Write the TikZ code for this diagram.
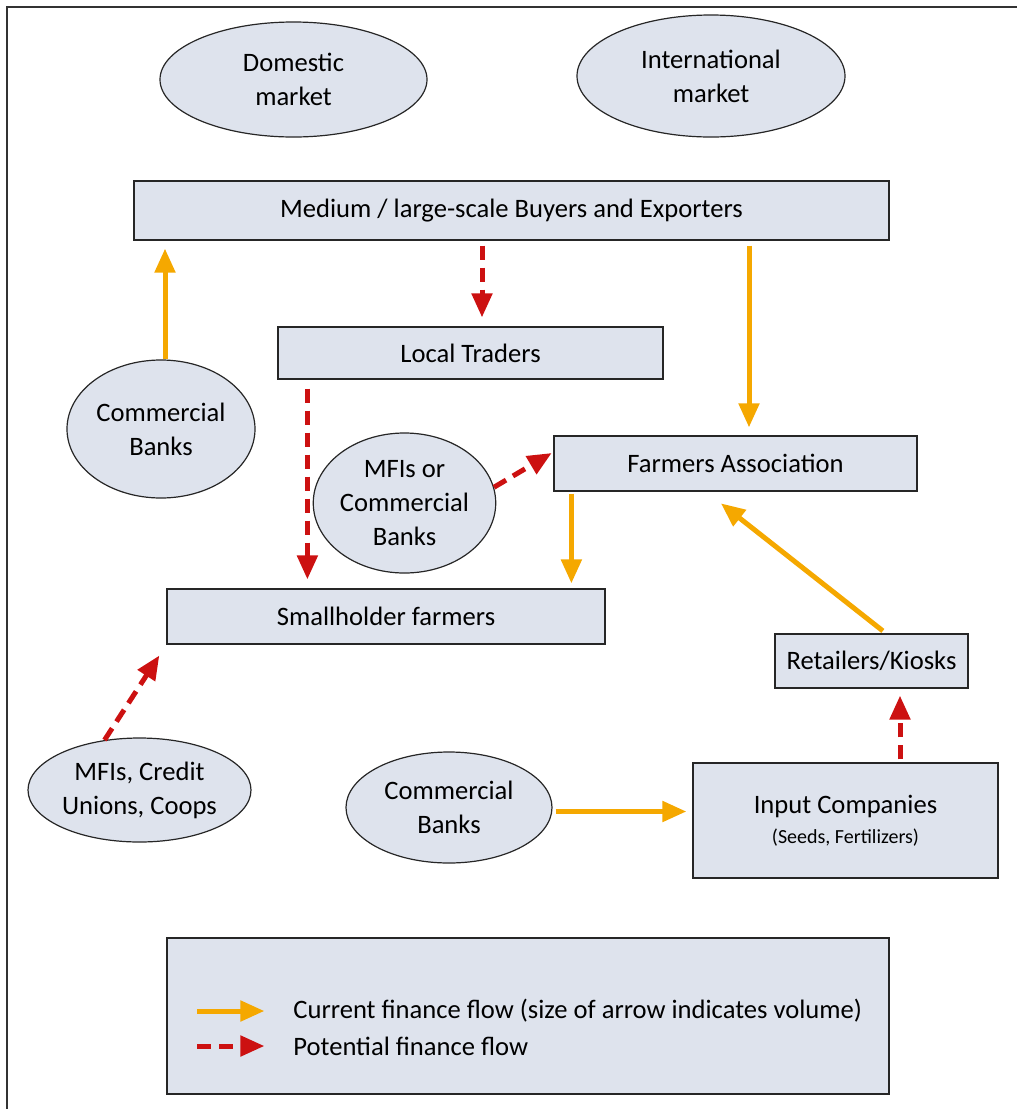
\documentclass[tikz,border=0pt]{standalone}
\usepackage{fontspec}
\setmainfont{Carlito}
\usetikzlibrary{shapes.geometric,arrows.meta}

\definecolor{boxfill}{HTML}{DEE3ED}
\definecolor{flowcur}{HTML}{F5A800}
\definecolor{flowpot}{HTML}{CC1111}

\tikzset{
  box/.style={draw=black!85,fill=boxfill,line width=0.6pt,inner sep=0pt,
    font=\fontsize{13.3}{17}\selectfont,align=center},
  blob/.style={ellipse,draw=black!85,fill=boxfill,line width=0.6pt,inner sep=0pt,
    font=\fontsize{13.3}{17}\selectfont,align=center},
  current/.style={draw=flowcur,line width=2.5pt,-{Triangle[width=10pt,length=12pt]}},
  potential/.style={draw=flowpot,line width=2.5pt,dash pattern=on 7pt off 4pt,
    -{Triangle[width=10pt,length=12pt]}},
}

\begin{document}
\begin{tikzpicture}[x=0.5pt,y=-0.5pt]
\useasboundingbox (0,0) rectangle (1017,1109);
\draw[line width=1pt,black!80] (7,1109) -- (7,7) -- (1017,7);

% markets
\node[blob,minimum width=133.5pt,minimum height=57.5pt] (domestic) at (293.5,79.5) {Domestic\\market};
\node[blob,minimum width=134pt,minimum height=61pt] (intl) at (711,76) {International\\market};

% boxes
\node[box,minimum width=377.5pt,minimum height=29.5pt] (buyers) at (511.5,210.5) {Medium / large-scale Buyers and Exporters};
\node[box,minimum width=192.5pt,minimum height=26pt] (traders) at (470.5,353) {Local Traders};
\node[box,minimum width=181.5pt,minimum height=27.5pt] (assoc) at (735.5,463.5) {Farmers Association};
\node[box,minimum width=219pt,minimum height=27.5pt] (small) at (386,616.5) {Smallholder farmers};
\node[box,minimum width=96.5pt,minimum height=27pt] (retail) at (871.5,661) {Retailers/Kiosks};
\node[box,minimum width=152.5pt,minimum height=57.5pt] (input) at (845.5,820.5)
  {Input Companies\\[-2pt]{\fontsize{10}{12}\selectfont (Seeds, Fertilizers)}};

% lenders
\node[blob,minimum width=94pt,minimum height=69pt] (cbl) at (161,429) {Commercial\\Banks};
\node[blob,minimum width=87.5pt,minimum height=70pt] (mfi) at (404.5,503) {MFIs or\\Commercial\\Banks};
\node[blob,minimum width=111.5pt,minimum height=52pt] (coops) at (139.5,790) {MFIs, Credit\\Unions, Coops};
\node[blob,minimum width=103pt,minimum height=55.5pt] (cbb) at (449,807.5) {Commercial\\Banks};

% flows
\draw[current,shorten >=4pt] ([xshift=2pt]cbl.north) -- ([xshift=2pt]cbl.north |- buyers.south);
\draw[potential,shorten <=2.5pt,shorten >=4.5pt] ([xshift=5.75pt]traders.north |- buyers.south) -- ([xshift=5.75pt]traders.north);
\draw[current,shorten <=2.5pt,shorten >=4pt] ([xshift=6.75pt]assoc.north |- buyers.south) -- ([xshift=6.75pt]assoc.north);
\draw[potential,shorten <=4.5pt,shorten >=4.5pt] ([xshift=15pt]traders.south west) -- ([xshift=15pt]traders.south west |- small.north);
\draw[potential,shorten >=1pt] (mfi.10) -- ([yshift=5.75pt]assoc.west);
\draw[current,shorten <=1pt,shorten >=2.5pt] ([xshift=9pt]assoc.south west) -- ([xshift=9pt]assoc.south west |- small.north);
\draw[current,shorten <=2pt,shorten >=9.5pt] ([xshift=7.25pt]retail.north) -- ([xshift=-14.75pt]assoc.south);
\draw[potential,shorten >=6.5pt] (coops.125) -- (small.south west);
\draw[current,shorten <=1.5pt,shorten >=3pt] ([yshift=-2pt]cbb.east) -- ([yshift=-2pt]cbb.east -| input.west);
\draw[potential,shorten <=1.5pt,shorten >=3.5pt] ([xshift=27.25pt]input.north) -- ([xshift=27.25pt]input.north |- retail.south);

% legend
\node[box,minimum width=361pt,minimum height=78pt] (legend) at (528,1016) {};
\draw[current] ([xshift=15.5pt,yshift=2.5pt]legend.west) -- ([xshift=49pt,yshift=2.5pt]legend.west);
\draw[potential] ([xshift=15.5pt,yshift=-15pt]legend.west) -- ([xshift=49pt,yshift=-15pt]legend.west);
\node[anchor=west,inner sep=0pt,font=\fontsize{13.3}{17}\selectfont] (curtext) at (293,1011) {Current finance flow (size of arrow indicates volume)};
\node[anchor=west,inner sep=0pt,font=\fontsize{13.3}{17}\selectfont] (pottext) at (293,1046) {Potential finance flow};

\end{tikzpicture}
\end{document}
